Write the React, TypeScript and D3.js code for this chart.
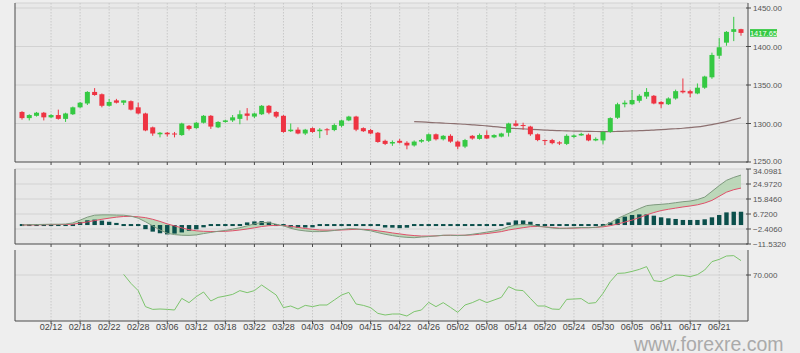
import React from 'react';
import * as d3 from 'd3';

const W = 800;
const H = 353;

// trading days on the chart (weekdays, the feed has no bar for Good Friday)
const firstDay = new Date(2019, 1, 6);
const lastDay = new Date(2019, 5, 26);
const skippedDays = ['2019-04-19'];
const keyFmt = d3.timeFormat('%Y-%m-%d');
const dayKeys = d3.timeDay
  .range(firstDay, d3.timeDay.offset(lastDay, 1))
  .filter(d => d.getDay() !== 0 && d.getDay() !== 6 && !skippedDays.includes(keyFmt(d)))
  .map(keyFmt);

const dateTicks = ['02/12', '02/18', '02/22', '02/28', '03/06', '03/12', '03/18', '03/22', '03/28', '04/03',
  '04/09', '04/15', '04/22', '04/26', '05/02', '05/08', '05/14', '05/20', '05/24', '05/30', '06/05', '06/11',
  '06/17', '06/21'];

// open, high, low, close
const candles: [number, number, number, number][] = [
  [1315, 1316, 1305, 1307], [1307, 1312, 1304, 1311], [1310, 1315, 1309, 1314], [1314, 1315, 1304, 1308],
  [1308, 1312, 1307, 1311], [1311, 1318, 1305, 1306], [1306, 1314, 1302, 1313], [1312, 1322, 1311, 1321],
  [1321, 1328, 1320, 1327], [1326, 1342, 1324, 1341], [1341, 1346, 1336, 1337], [1338, 1339, 1321, 1323],
  [1323, 1332, 1322, 1328], [1330, 1332, 1326, 1327], [1327, 1330, 1324, 1330], [1329, 1330, 1317, 1318],
  [1321, 1327, 1312, 1313], [1313, 1314, 1290, 1291], [1295, 1296, 1284, 1287], [1286, 1289, 1282, 1288],
  [1288, 1289, 1283, 1286], [1287, 1289, 1282, 1286], [1285, 1301, 1284, 1300], [1297, 1298, 1291, 1293],
  [1294, 1302, 1293, 1301], [1301, 1311, 1300, 1310], [1310, 1311, 1293, 1296], [1295, 1303, 1294, 1302],
  [1302, 1305, 1301, 1304], [1304, 1311, 1302, 1308], [1306, 1317, 1299, 1312], [1313, 1320, 1304, 1310],
  [1309, 1314, 1307, 1313], [1312, 1324, 1311, 1323], [1323, 1324, 1312, 1314], [1315, 1316, 1307, 1309],
  [1310, 1311, 1288, 1289], [1290, 1300, 1289, 1292], [1292, 1295, 1286, 1287], [1287, 1293, 1285, 1292],
  [1294, 1295, 1288, 1289], [1290, 1294, 1281, 1292], [1292.5, 1294, 1285, 1291.5], [1291.5, 1300, 1290, 1298],
  [1297, 1305, 1295, 1304], [1304, 1310, 1303, 1309], [1309, 1310, 1290, 1292], [1294, 1295, 1289, 1290],
  [1291.5, 1293, 1286, 1287], [1288, 1289, 1275, 1276], [1277.5, 1279, 1272, 1273.5], [1274, 1278, 1271, 1276],
  [1277.5, 1280, 1274, 1275], [1275, 1277, 1266.5, 1271.5], [1271.5, 1278, 1270, 1276.5], [1276.5, 1280, 1275, 1278.5],
  [1277.5, 1287, 1276, 1286], [1286, 1287, 1278, 1279.5], [1279.5, 1285, 1278, 1284], [1284, 1286, 1275, 1276.5],
  [1276.5, 1278, 1266.5, 1270], [1270, 1280, 1268, 1278.5], [1284, 1285, 1279, 1280.5], [1280, 1287, 1279, 1285],
  [1285, 1291, 1280, 1280.5], [1282, 1286, 1281, 1285], [1283, 1288, 1282, 1287], [1288, 1301, 1283, 1300],
  [1300, 1304, 1296, 1297], [1298, 1301, 1292, 1297], [1296, 1297, 1284, 1286], [1286, 1287, 1277, 1278.5],
  [1278.5, 1279, 1272, 1277.5], [1278.5, 1280, 1273, 1274.5], [1275.5, 1277, 1272, 1274], [1273.5, 1286, 1272, 1284],
  [1282.5, 1286, 1281, 1284.5], [1284.5, 1288, 1284, 1286.5], [1285.5, 1287, 1277, 1278], [1278, 1282, 1277, 1280],
  [1278, 1290, 1273, 1289], [1289, 1308, 1288, 1307], [1307.5, 1327, 1306, 1325], [1325, 1330, 1321, 1327],
  [1325, 1343.5, 1324, 1330.5], [1329.5, 1338, 1327, 1336], [1335, 1346, 1332, 1341], [1336, 1337, 1325, 1326],
  [1328, 1329, 1320, 1325], [1325, 1334, 1324, 1332.5], [1332.5, 1344, 1331, 1342], [1342.5, 1358.5, 1339, 1340.5],
  [1342, 1344, 1334, 1339], [1339, 1352, 1338, 1346.5], [1346.5, 1362, 1345, 1361], [1360, 1392, 1358, 1389],
  [1388, 1411, 1384, 1399], [1405, 1420, 1401, 1419], [1419, 1438.5, 1407, 1422.5], [1422.5, 1423, 1414, 1417.65],
];

// moving average, first value sits on bar 54
const maStart = 54;
const maValues = [1302.4, 1302, 1301.5, 1301, 1300.5, 1300, 1299.5, 1299, 1298.3, 1297.6, 1297, 1296, 1295, 1294,
  1293.5, 1293, 1292.5, 1292, 1291.5, 1291, 1290.7, 1290.4, 1290.2, 1290, 1289.8, 1289.6, 1289.5, 1289.5, 1289.7,
  1290, 1290.3, 1290.7, 1291, 1291.5, 1292, 1292.6, 1293.2, 1293.8, 1294.6, 1295.6, 1297, 1298.6, 1300.5, 1302.4,
  1305, 1307.5];

const macdLine = [0, 0.2, 0.3, 0.4, 0.5, 0.5, 0.6, 1.3, 3, 4.8, 6, 6.2, 6.2, 6.1, 6, 5.4, 4.2, 2, -0.5, -3, -5, -5.8,
  -6.2, -6.3, -6, -5.2, -4.5, -3.8, -3.3, -2.5, -1.6, -0.5, 0.7, 1.6, 1.5, 0.5, -0.5, -2, -3, -3.6, -4, -4, -3.8,
  -3.3, -2.7, -2.2, -2.3, -2.9, -3.5, -4.6, -5.6, -6.4, -7.1, -7.5, -7.7, -7.3, -7, -6.6, -6.2, -6.2, -6.4, -6.2,
  -5.6, -5, -4.3, -3.6, -2.7, -1, 0, 0.4, 0.1, -0.6, -1.2, -1.8, -2.1, -1.9, -1.7, -1.5, -1.6, -1.4, -0.6, 1.5, 4,
  6, 8, 10, 11.8, 12.3, 12.6, 13, 13.6, 14.2, 14.6, 15.5, 17, 20.5, 24, 27.2, 29, 30.4];

const signalLine = [0, 0.05, 0.1, 0.2, 0.25, 0.3, 0.35, 0.5, 1.2, 1.9, 2.7, 3.5, 4.2, 4.8, 5.2, 5.3, 5, 4.5, 3.5, 2.2,
  0.7, -0.5, -1.7, -2.8, -3.5, -3.8, -3.9, -3.9, -3.8, -3.5, -3, -2.4, -1.7, -0.9, -0.4, -0.2, -0.3, -0.8, -1.4,
  -2.1, -2.6, -3, -3.1, -3.1, -3, -2.8, -2.6, -2.6, -2.9, -3.5, -4.1, -4.8, -5.4, -6, -6.4, -6.7, -6.7, -6.6, -6.3,
  -6.2, -6.2, -6.2, -6, -5.6, -5.2, -4.6, -4, -3, -2.3, -1.6, -1, -0.9, -1.1, -1.5, -1.9, -2, -1.9, -1.7, -1.6,
  -1.4, -1.1, -0.4, 0.6, 1.8, 3, 4.5, 6.2, 7.6, 8.8, 9.6, 10.3, 11, 11.6, 12.3, 13.4, 15, 17.5, 20, 21.5, 22.5];

const histValues = [0, 0.1, 0.2, 0.2, 0.2, 0.2, 0.25, 0.8, 1.8, 2.9, 3.3, 2.7, 2, 1.3, 0.8, 0.1, -0.8, -2.5, -4,
  -5, -5.7, -5.2, -4.5, -3.5, -2.6, -1.4, -0.6, 0.1, 0.4, 0.8, 1.2, 1.6, 2.2, 2.4, 2, 0.7, -0.3, -1.4, -1.6, -1.5,
  -1.4, -1.1, -0.7, -0.3, 0.3, 0.5, 0.3, -0.3, -0.6, -1.1, -1.5, -1.6, -1.9, -1.6, -1.2, -0.5, -0.3, -0.2, -0.2,
  -0.2, -0.2, -0.2, -0.2, -0.2, 0.2, 0.5, 0.7, 1.6, 2.8, 2.8, 2, 0.6, 0.2, 0.2, 0.2, 0.1, 0.2, 0.2, 0.2, 0.2, 0.3,
  1.6, 3.7, 5.1, 6.1, 6.5, 6.5, 5.7, 4.7, 4.1, 3.7, 3.1, 3.1, 3.1, 3.5, 4.7, 6.1, 7.7, 8.1, 8.1];

// RSI, first value sits on bar 14
const rsiStart = 14;
const rsiValues = [70.5, 63.3, 57.5, 44.7, 42.5, 42.8, 42.5, 42, 51.3, 47.9, 52.7, 56.4, 49.2, 52.1, 53.2, 54.5,
  57.5, 55.9, 57.5, 62, 58, 54, 43.9, 45.2, 42.8, 45.7, 44.7, 46, 46, 50, 54, 56.1, 46.8, 45.7, 43.9, 39.3, 38,
  38.8, 38.8, 37.2, 40.7, 42, 48.1, 44.7, 47.9, 44.1, 40.1, 46, 47.9, 50.5, 47.9, 50, 52.1, 60.7, 58, 57.5, 51.3,
  45.2, 45.2, 42.8, 42.5, 50.5, 50.8, 51.1, 47.3, 47.9, 55.3, 64.7, 71.3, 71.6, 72.9, 74.5, 76.7, 65.5, 64.7, 67.3,
  70, 69.7, 68.7, 70.3, 74, 80.7, 82.5, 85.2, 85.5, 81.5];

const priceTicks = [1250, 1300, 1350, 1400, 1450];
const macdTicks = [-11.532, -2.406, 6.72, 15.846, 24.972, 34.0981];
const rsiTicks = [70];
const lastPrice = 1417.65;

const LEFT = 15;
const RIGHT = 748;
const UP = '#35c943';
const DOWN = '#ee3342';
const GRID = '#d2d2d2';
const AXIS = '#4a4a4a';
const LABEL = '#555';

const main = { top: 3, bottom: 162 };
const macdPanel = { top: 169, bottom: 244 };
const rsiPanel = { top: 250, bottom: 321 };

const App = () => {
  const x = d3.scalePoint<string>().domain(dayKeys).range([22, 741]);
  const xi = (i: number) => x(dayKeys[i]) as number;
  const tickX = dateTicks.map(t => x('2019-' + t.replace('/', '-')) as number);

  const yPrice = d3.scaleLinear().domain([1250, 1450]).range([162, 8]);
  const yMacd = d3.scaleLinear().domain([-11.532, 34.0981]).range([244, 169]);
  const yRsi = d3.scaleLinear().domain([33.2, 90]).range([321, 250]);

  const maLine = d3.line<number>().x((_, i) => xi(i + maStart)).y(d => yPrice(d)).curve(d3.curveMonotoneX);
  const macdPath = d3.line<number>().x((_, i) => xi(i)).y(d => yMacd(d));
  const macdArea = d3.area<number>().x((_, i) => xi(i)).y0((_, i) => yMacd(signalLine[i])).y1(d => yMacd(d));
  const rsiPath = d3.line<number>().x((_, i) => xi(i + rsiStart)).y(d => yRsi(d));

  const panel = (p: { top: number; bottom: number }, key: string, topLine: boolean) => (
    <g key={key}>
      <rect x={LEFT} y={p.top} width={RIGHT - LEFT} height={p.bottom - p.top} fill="#e8e8e8" />
      {topLine && <line x1={LEFT} x2={RIGHT} y1={p.top} y2={p.top} stroke={GRID} />}
      {tickX.map((tx, i) => (
        <line key={i} x1={tx} x2={tx} y1={p.top} y2={p.bottom} stroke="#c8c8c8" strokeDasharray="1.5,1.5" />
      ))}
    </g>
  );

  const bottomAxis = (yb: number, p: { top: number }) => (
    <g>
      <line x1={LEFT} x2={RIGHT} y1={yb} y2={yb} stroke={AXIS} />
      <line x1={LEFT} x2={LEFT} y1={p.top} y2={yb} stroke={AXIS} />
      <line x1={RIGHT} x2={RIGHT} y1={p.top} y2={yb} stroke={AXIS} />
      {tickX.map((tx, i) => (
        <line key={i} x1={tx} x2={tx} y1={yb} y2={yb + 3} stroke={AXIS} />
      ))}
    </g>
  );

  // labels on the right; the two labels where panels meet are nudged apart a little
  const rightLabels = (ticks: number[], scale: d3.ScaleLinear<number, number>, fmt: (n: number) => string,
    nudge: (t: number) => number = () => 0) =>
    ticks.map((t, i) => (
      <g key={i}>
        <line x1={RIGHT - 2} x2={RIGHT + 3} y1={scale(t)} y2={scale(t)} stroke={AXIS} />
        <text x={RIGHT + 5} y={scale(t) + 3 + nudge(t)} fontSize={8} fill={LABEL}>{fmt(t)}</text>
      </g>
    ));

  return (
    <svg width={W} height={H} style={{ position: 'absolute', left: 0, top: 0 }}
      fontFamily="'Liberation Sans', Arial, sans-serif">
      <rect width={W} height={H} fill="#eeeeee" />

      {/* price panel */}
      {panel(main, 'main', true)}
      {priceTicks.slice(1).map(t => (
        <line key={t} x1={LEFT} x2={RIGHT} y1={yPrice(t)} y2={yPrice(t)} stroke={GRID} />
      ))}
      <path d={maLine(maValues) || ''} fill="none" stroke="#8c7070" strokeWidth={1.2} />
      {candles.map(([o, h, l, c], i) => {
        const col = c >= o ? UP : DOWN;
        const cx = xi(i);
        const top = yPrice(Math.max(o, c));
        const bh = Math.max(1, yPrice(Math.min(o, c)) - top);
        return (
          <g key={i}>
            <line x1={cx} x2={cx} y1={yPrice(h)} y2={yPrice(l)} stroke={col} />
            <rect x={cx - 2.5} y={top} width={5} height={bh} fill={col} />
          </g>
        );
      })}
      {bottomAxis(main.bottom, main)}
      {rightLabels(priceTicks, yPrice, d3.format('.2f'), t => (t === 1250 ? -1.5 : 0))}
      <rect x={750} y={yPrice(lastPrice) - 3.8} width={27} height={7.6} fill={UP} />
      <text x={763.5} y={yPrice(lastPrice) + 2.6} fontSize={7.5} fill="#fff" textAnchor="middle">
        {d3.format('.2f')(lastPrice)}
      </text>

      {/* MACD panel */}
      {panel(macdPanel, 'macd', true)}
      {macdTicks.slice(1, -1).map(t => (
        <line key={t} x1={LEFT} x2={RIGHT} y1={yMacd(t)} y2={yMacd(t)} stroke={GRID} />
      ))}
      <path d={macdArea(macdLine) || ''} fill="#b4d4b0" opacity={0.85} />
      {histValues.map((v, i) => {
        const y0 = yMacd(0);
        let y = Math.min(yMacd(v), y0);
        let h = Math.abs(yMacd(v) - y0);
        if (h < 2) {
          y = y0 - 1;
          h = 2;
        }
        return <rect key={i} x={xi(i) - 2.2} y={y} width={4.4} height={h} fill="#0b4f4b" />;
      })}
      <path d={macdPath(signalLine) || ''} fill="none" stroke="#e0506a" strokeWidth={1} />
      <path d={macdPath(macdLine) || ''} fill="none" stroke="#7f9a7f" strokeWidth={1} />
      {bottomAxis(macdPanel.bottom, macdPanel)}
      {rightLabels(macdTicks, yMacd, d3.format('.4f'), t => (t === macdTicks[macdTicks.length - 1] ? 1.5 : 0))}

      {/* RSI panel */}
      {panel(rsiPanel, 'rsi', false)}
      {rsiTicks.map(t => (
        <line key={t} x1={LEFT} x2={RIGHT} y1={yRsi(t)} y2={yRsi(t)} stroke={GRID} />
      ))}
      <path d={rsiPath(rsiValues) || ''} fill="none" stroke="#7cc46c" strokeWidth={1} />
      {bottomAxis(rsiPanel.bottom, rsiPanel)}
      {rightLabels(rsiTicks, yRsi, d3.format('.3f'))}
      {dateTicks.map((t, i) => (
        <text key={t} x={tickX[i]} y={330} fontSize={9} fill="#444" textAnchor="middle">{t}</text>
      ))}

      <text x={634} y={350.5} fontSize={19.5} fill="#aaaaaa">
        www.forexre.com
      </text>
    </svg>
  );
};

export default App;
